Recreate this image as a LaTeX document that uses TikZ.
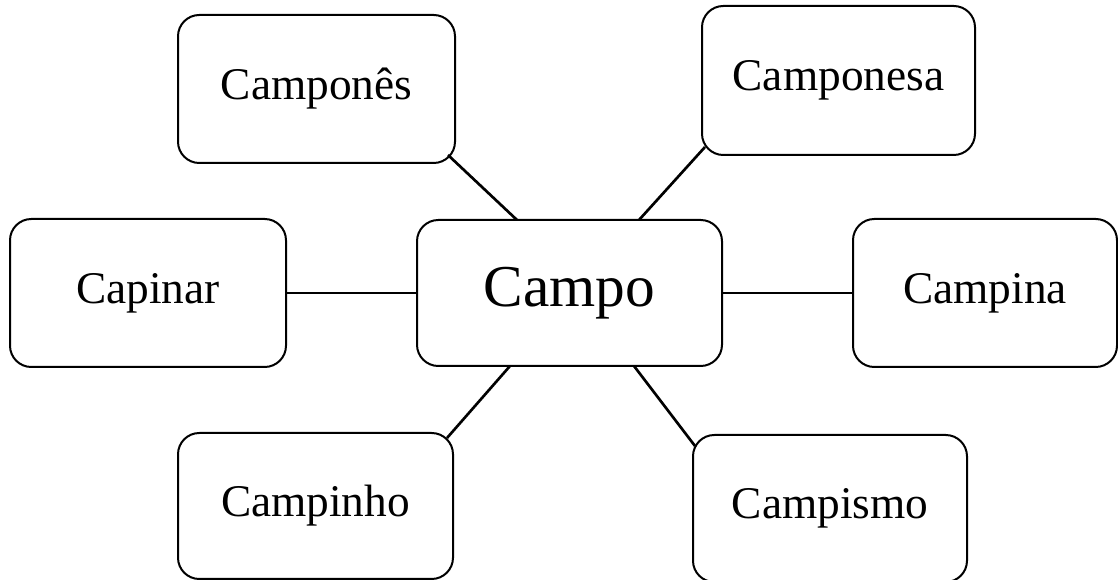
\documentclass[tikz,border=0pt]{standalone}
\usepackage{fontspec}
\setmainfont{Liberation Serif}
\usetikzlibrary{calc}
\tikzset{
  wordbox/.style 2 args={draw=black, line width=1.5pt, rounded corners=16pt,
    fill=white, inner sep=0pt, outer sep=0pt,
    minimum width=#1*0.75pt, minimum height=#2*0.75pt,
    font=\fontsize{34}{40}\selectfont},
  mainbox/.style={font=\fontsize{44.5}{52}\selectfont},
  link/.style={draw=black, line width=2pt}
}
\begin{document}
\begin{tikzpicture}[x=0.75pt,y=-0.75pt]
\useasboundingbox (0,0) rectangle (1118,580);
\node[wordbox={277}{148}] (campones) at (316.5,89) {Camponês};
\node[wordbox={273}{149}] (camponesa) at (838.5,80.5) {Camponesa};
\node[wordbox={276}{148}] (capinar) at (148,293) {Capinar};
\node[wordbox={305}{146}, mainbox] (campo) at (569.5,293) {Campo};
\node[wordbox={264}{148}] (campina) at (985,293) {Campina};
\node[wordbox={275}{146}] (campinho) at (315.5,506) {Campinho};
\node[wordbox={274}{147}] (campismo) at (830,508.5) {Campismo};

\coordinate (c1) at ($(campones.south east)+(-7,-8)$);
\coordinate (c2) at ($(camponesa.south west)+(3,-8)$);
\coordinate (c3) at ($(campinho.north east)+(-6,5)$);
\coordinate (c4) at ($(campismo.north west)+(2,11)$);
\coordinate (m1) at ($(campo.north west)+(100,0)$);
\coordinate (m2) at ($(campo.north east)+(-83,0)$);
\coordinate (m3) at ($(campo.south west)+(93,0)$);
\coordinate (m4) at ($(campo.south east)+(-88,0)$);

\draw[link] (m1) -- (c1);
\draw[link] (m2) -- (c2);
\draw[link] (m3) -- (c3);
\draw[link] (m4) -- (c4);
\draw[link] (capinar.east) -- (campo.west);
\draw[link] (campo.east) -- (campina.west);
\end{tikzpicture}
\end{document}
